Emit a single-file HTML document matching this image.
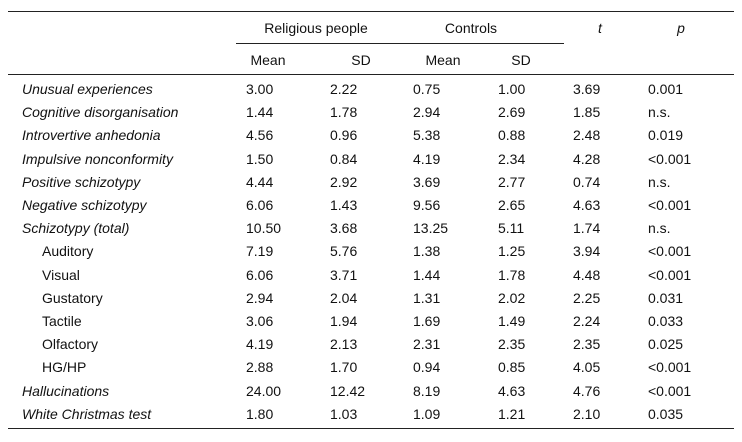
<!DOCTYPE html>
<html><head><meta charset="utf-8"><style>
body{margin:0;width:742px;height:442px;background:#fff;font-family:"Liberation Sans",Arial,sans-serif;font-size:14px;color:#111;position:relative;overflow:hidden}
.l{position:absolute;background:#222;height:1px}
.t{position:absolute;white-space:nowrap;line-height:16px}
.c{transform:translateX(-50%)}
i{font-style:italic}
</style></head><body>
<div class="l" style="left:8px;width:726px;top:11px"></div>
<div class="l" style="left:236px;width:328px;top:43px"></div>
<div class="l" style="left:8px;width:726px;top:74px"></div>
<div class="l" style="left:8px;width:726px;top:428px"></div>
<div class="t c" style="left:316px;top:20px">Religious people</div>
<div class="t c" style="left:471px;top:20px">Controls</div>
<div class="t c" style="left:600px;top:20px"><i>t</i></div>
<div class="t c" style="left:681px;top:20px"><i>p</i></div>
<div class="t c" style="left:268px;top:52px">Mean</div>
<div class="t c" style="left:361px;top:52px">SD</div>
<div class="t c" style="left:443px;top:52px">Mean</div>
<div class="t c" style="left:521px;top:52px">SD</div>
<div id="rows"></div>
<script>
const labels=["Unusual experiences","Cognitive disorganisation","Introvertive anhedonia","Impulsive nonconformity","Positive schizotypy","Negative schizotypy","Schizotypy (total)","Auditory","Visual","Gustatory","Tactile","Olfactory","HG/HP","Hallucinations","White Christmas test"];
const italic=[1,1,1,1,1,1,1,0,0,0,0,0,0,1,1];
const indent=[0,0,0,0,0,0,0,1,1,1,1,1,1,0,0];
const relMean=["3.00","1.44","4.56","1.50","4.44","6.06","10.50","7.19","6.06","2.94","3.06","4.19","2.88","24.00","1.80"];
const relSD=["2.22","1.78","0.96","0.84","2.92","1.43","3.68","5.76","3.71","2.04","1.94","2.13","1.70","12.42","1.03"];
const conMean=["0.75","2.94","5.38","4.19","3.69","9.56","13.25","1.38","1.44","1.31","1.69","2.31","0.94","8.19","1.09"];
const conSD=["1.00","2.69","0.88","2.34","2.77","2.65","5.11","1.25","1.78","2.02","1.49","2.35","0.85","4.63","1.21"];
const tVals=["3.69","1.85","2.48","4.28","0.74","4.63","1.74","3.94","4.48","2.25","2.24","2.35","4.05","4.76","2.10"];
const pVals=["0.001","n.s.","0.019","<0.001","n.s.","<0.001","n.s.","<0.001","<0.001","0.031","0.033","0.025","<0.001","<0.001","0.035"];
const root=document.getElementById('rows');
const cols=[[relMean,246,'rel-mean'],[relSD,330,'rel-sd'],[conMean,413,'con-mean'],[conSD,498,'con-sd'],[tVals,573,'t-value'],[pVals,648,'p-value']];
labels.forEach((lab,i)=>{
  const y=81+i*23.2;
  const d=document.createElement('div');
  d.className='t';d.style.left=(indent[i]?42:22)+'px';d.style.top=y+'px';
  if(italic[i])d.style.fontStyle='italic';
  d.textContent=lab;
  
  
  root.appendChild(d);
  cols.forEach(([arr,x,n])=>{
    const e=document.createElement('div');
    e.className='t';e.style.left=x+'px';e.style.top=y+'px';e.textContent=arr[i];
    
    
    root.appendChild(e);
  });
});
</script>
</body></html>
